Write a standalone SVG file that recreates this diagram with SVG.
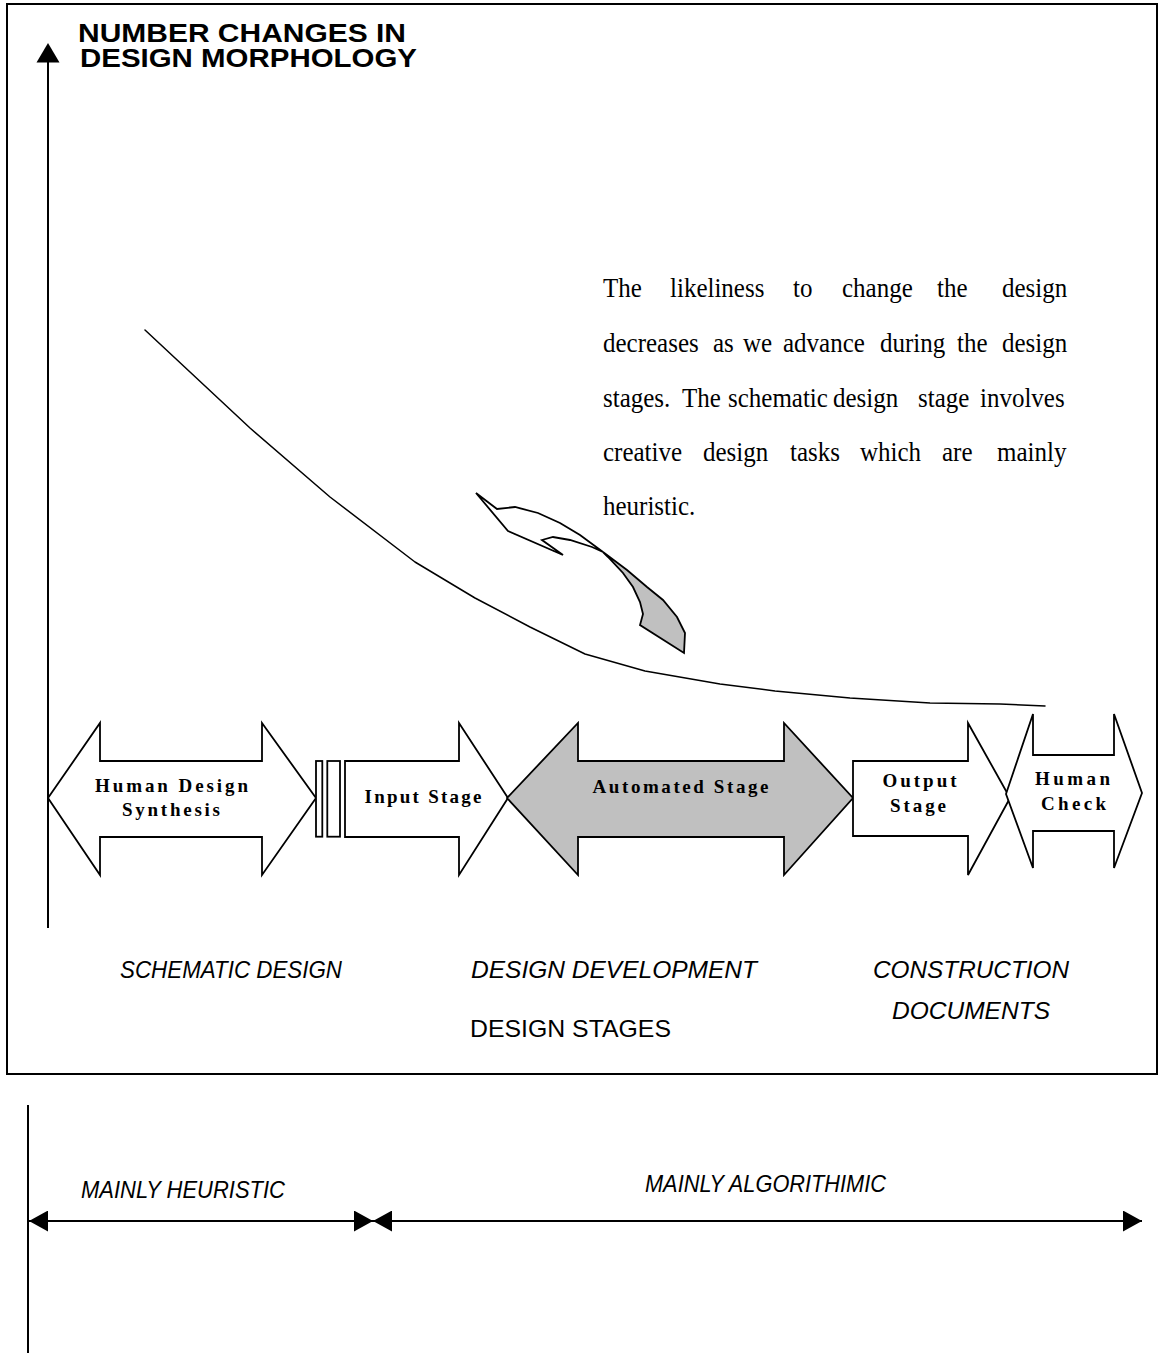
<svg xmlns="http://www.w3.org/2000/svg" width="1159" height="1353" viewBox="0 0 1159 1353">
  <defs>
    <style>
      .frame { fill: none; stroke: #000; stroke-width: 2; }
      .shape { fill: #fff; stroke: #000; stroke-width: 1.8; stroke-linejoin: miter; }
      .shaded { fill: #c0c0c0; stroke: #000; stroke-width: 1.8; stroke-linejoin: miter; }
      .line { fill: none; stroke: #000; stroke-width: 2; }
      .curve { fill: none; stroke: #000; stroke-width: 1.5; stroke-linejoin: round; stroke-linecap: round; }
      .title { font-family: "Liberation Sans", Arial, sans-serif; font-weight: bold; font-size: 25.5px; fill: #000; }
      .lbl { font-family: "Liberation Serif", "Times New Roman", serif; font-weight: bold; font-size: 19px; fill: #000; text-anchor: middle; }
      .para { font-family: "Liberation Serif", "Times New Roman", serif; font-size: 25px; fill: #000; }
      .stage { font-family: "Liberation Sans", Arial, sans-serif; font-style: italic; font-size: 24px; fill: #000; }
      .plain { font-family: "Liberation Sans", Arial, sans-serif; font-size: 24px; fill: #000; }
    </style>
    <marker id="tri" viewBox="0 0 19 21" refX="19" refY="10.5" markerWidth="19" markerHeight="21" markerUnits="userSpaceOnUse" orient="auto-start-reverse">
      <path d="M0,0 L19,10.5 L0,21 Z" fill="#000"/>
    </marker>
  </defs>

  <rect width="1159" height="1353" fill="#fff"/>

  <!-- chart frame -->
  <rect class="frame" x="7" y="4" width="1150" height="1070"/>

  <!-- axis title -->
  <text class="title" x="78" y="42" textLength="328" lengthAdjust="spacingAndGlyphs">NUMBER CHANGES IN</text>
  <text class="title" x="80" y="67" textLength="337" lengthAdjust="spacingAndGlyphs">DESIGN MORPHOLOGY</text>

  <!-- explanatory paragraph, justified word by word, glyphs slightly tall -->
  <text class="para" transform="translate(0,297) scale(1,1.1)">
    <tspan x="603" y="0">The</tspan><tspan x="670" y="0">likeliness</tspan><tspan x="793" y="0">to</tspan><tspan x="842" y="0">change</tspan><tspan x="937" y="0">the</tspan><tspan x="1002" y="0">design</tspan>
  </text>
  <text class="para" transform="translate(0,352) scale(1,1.1)">
    <tspan x="603" y="0">decreases</tspan><tspan x="713" y="0">as</tspan><tspan x="743" y="0">we</tspan><tspan x="783" y="0">advance</tspan><tspan x="880" y="0">during</tspan><tspan x="957" y="0">the</tspan><tspan x="1002" y="0">design</tspan>
  </text>
  <text class="para" transform="translate(0,407) scale(1,1.1)">
    <tspan x="603" y="0">stages.</tspan><tspan x="682" y="0">The</tspan><tspan x="728" y="0">schematic</tspan><tspan x="833" y="0">design</tspan><tspan x="918" y="0">stage</tspan><tspan x="980" y="0">involves</tspan>
  </text>
  <text class="para" transform="translate(0,461) scale(1,1.1)">
    <tspan x="603" y="0">creative</tspan><tspan x="703" y="0">design</tspan><tspan x="790" y="0">tasks</tspan><tspan x="860" y="0">which</tspan><tspan x="942" y="0">are</tspan><tspan x="997" y="0">mainly</tspan>
  </text>
  <text class="para" transform="translate(0,515) scale(1,1.1)" x="603" y="0">heuristic.</text>

  <!-- twisted pointer: front face (white) and turned-over back face (grey) -->
  <g id="pointer">
    <polygon class="shape" points="476,493 497,509 515,507 538,513 560,523 580,535 603,552 592,547 570,540 553,537 542,540 563,555 508,531"/>
    <polygon class="shaded" points="603,552 627,570 647,587 663,600 677,617 685,633 684,653 640,625 643,614 640,602 633,587 623,573 608,557"/>
  </g>

  <!-- stage nodes -->
  <g id="human-design-synthesis">
    <polygon class="shape" points="48,798 100,723 100,761 262,761 262,723 316,798 262,875 262,837 100,837 100,875"/>
    <text class="lbl" x="171.5" y="792" font-size="19" textLength="153" lengthAdjust="spacing">Human Design</text>
    <text class="lbl" x="171" y="816" font-size="19" textLength="98" lengthAdjust="spacing">Synthesis</text>
  </g>

  <g id="separator">
    <rect class="shape" x="316" y="761" width="6.3" height="75.7"/>
    <rect class="shape" x="327.3" y="761" width="12.7" height="75.7"/>
  </g>

  <g id="input-stage">
    <polygon class="shape" points="345,761 459,761 459,723 508,798 459,875 459,837 345,837"/>
    <text class="lbl" x="423" y="803" font-size="20" textLength="117" lengthAdjust="spacing">Input Stage</text>
  </g>

  <g id="automated-stage">
    <polygon class="shaded" points="507,798 578,723 578,761 784,761 784,723 853,798 784,875 784,837 578,837 578,875"/>
    <text class="lbl" x="680.5" y="793" font-size="20" textLength="176" lengthAdjust="spacing">Automated Stage</text>
  </g>

  <g id="output-stage">
    <polygon class="shape" points="853,761 968,761 968,723 1010,798 968,875 968,836 853,836"/>
    <text class="lbl" x="919.5" y="787" font-size="20" textLength="74" lengthAdjust="spacing">Output</text>
    <text class="lbl" x="918" y="812" font-size="20" textLength="56" lengthAdjust="spacing">Stage</text>
  </g>

  <g id="human-check">
    <polygon class="shape" points="1006,794 1033,714 1033,755 1114,755 1114,714 1142,793 1114,868 1114,831 1033,831 1033,868"/>
    <text class="lbl" x="1072.5" y="784.5" font-size="20" textLength="75" lengthAdjust="spacing">Human</text>
    <text class="lbl" x="1073.5" y="810" font-size="20" textLength="65" lengthAdjust="spacing">Check</text>
  </g>

  <!-- phase labels along the horizontal -->
  <text class="stage" x="120" y="978" textLength="222" lengthAdjust="spacingAndGlyphs">SCHEMATIC DESIGN</text>
  <text class="stage" x="471" y="978" textLength="286" lengthAdjust="spacingAndGlyphs">DESIGN DEVELOPMENT</text>
  <text class="stage" x="873" y="978" textLength="196" lengthAdjust="spacingAndGlyphs">CONSTRUCTION</text>
  <text class="stage" x="892" y="1019" textLength="158" lengthAdjust="spacingAndGlyphs">DOCUMENTS</text>
  <text class="plain" x="470" y="1037" textLength="201" lengthAdjust="spacingAndGlyphs">DESIGN STAGES</text>

  <!-- lower scale -->
  <text class="stage" x="81" y="1198" font-size="22" textLength="204" lengthAdjust="spacingAndGlyphs">MAINLY HEURISTIC</text>
  <text class="stage" x="645" y="1192" font-size="22" textLength="241" lengthAdjust="spacingAndGlyphs">MAINLY ALGORITHIMIC</text>

  <g id="connectors">
    <!-- vertical axis with arrowhead -->
    <line class="line" x1="48" y1="928" x2="48" y2="60"/>
    <polygon points="48,43 36.5,62.5 59.5,62.5" fill="#000"/>
    <!-- decreasing likelihood curve -->
    <polyline class="curve" points="145,330 250,428 330,497 415,562 475,598 530,627 585,654 645,671 720,684 775,691 850,698 930,703 1000,704 1045,706"/>
    <!-- lower scale baseline and ranges -->
    <line class="line" x1="28" y1="1105" x2="28" y2="1353"/>
    <line class="line" x1="29" y1="1221" x2="373" y2="1221" marker-start="url(#tri)" marker-end="url(#tri)"/>
    <line class="line" x1="373" y1="1221" x2="1142" y2="1221" marker-start="url(#tri)" marker-end="url(#tri)"/>
  </g>
</svg>
